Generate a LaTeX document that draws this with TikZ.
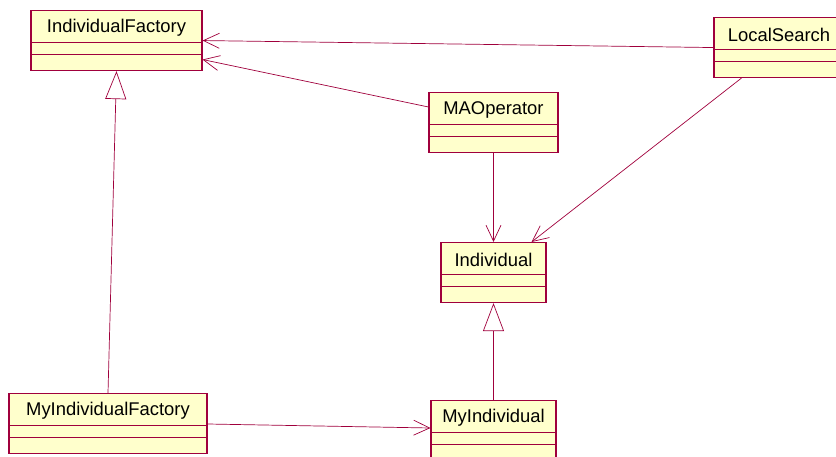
\documentclass[tikz,border=0pt]{standalone}
\usepackage{fontspec}
\setmainfont{Liberation Sans}
\usetikzlibrary{arrows.meta,positioning}

\definecolor{umlred}{RGB}{160,0,60}
\definecolor{umlfill}{RGB}{255,255,204}

\tikzset{
  classbox/.style = {draw = umlred, fill = umlfill, line width = 1.1pt, shape = rectangle, minimum height = 60, inner sep = 0pt},
  classtitle/.style = {anchor = north, yshift = -2pt, minimum height = 32, inner sep = 0pt, font = \fontsize{18.4}{22}\selectfont},
  divider/.style = {draw = umlred, line width = 0.8pt},
  uses/.style = {draw = umlred, line width = 0.7pt, -{Straight Barb[length=16pt, width=15pt]}},
  extends/.style = {draw = umlred, line width = 0.7pt, -{Triangle[length=28pt, width=21pt, fill=white]}}
}

\begin{document}
\begin{tikzpicture}[x = 1pt, y = -1pt]
\useasboundingbox (0,0) rectangle (836,457);
\clip (0,0) rectangle (836,457);

% classes
\node[classbox, minimum width = 171, anchor = north] (factory) at (116.5,10) {};
\node[classtitle] (factory-t) at (factory.north) {IndividualFactory};
\node[classbox, minimum width = 130, anchor = north] (search) at (779,17) {};
\node[classtitle] (search-t) at (search.north) {LocalSearch};
\node[classbox, minimum width = 129, anchor = north] (maop) at (493.5,92) {};
\node[classtitle] (maop-t) at (maop.north) {MAOperator};
\node[classbox, minimum width = 105, anchor = north] (indiv) at (493.5,242) {};
\node[classtitle] (indiv-t) at (indiv.north) {Individual};
\node[classbox, minimum width = 198, anchor = north] (myfactory) at (108,393) {};
\node[classtitle] (myfactory-t) at (myfactory.north) {MyIndividualFactory};
\node[classbox, minimum width = 125, anchor = north] (myindiv) at (493.5,400) {};
\node[classtitle] (myindiv-t) at (myindiv.north) {MyIndividual};

% compartments
\foreach \c in {factory, search, maop, indiv, myfactory, myindiv} {
  \draw[divider] ([yshift=-32]\c.north west) -- ([yshift=-32]\c.north east);
  \draw[divider] ([yshift=-44]\c.north west) -- ([yshift=-44]\c.north east);
}

% associations
\draw[uses] (search.west) -- (factory.east);
\draw[uses] ([yshift=-15]maop.north west) -- ([yshift=-19]factory.east);
\draw[uses] (maop.south) -- (indiv.north);
\draw[uses] ([xshift=28]search.south west) -- ([xshift=-15]indiv.north east);
\draw[uses] ([yshift=-31]myfactory.north east) -- ([yshift=-28]myindiv.north west);

% generalisations
\draw[extends] (myfactory.north) -- (factory.south);
\draw[extends] (myindiv.north) -- (indiv.south);
\end{tikzpicture}
\end{document}
